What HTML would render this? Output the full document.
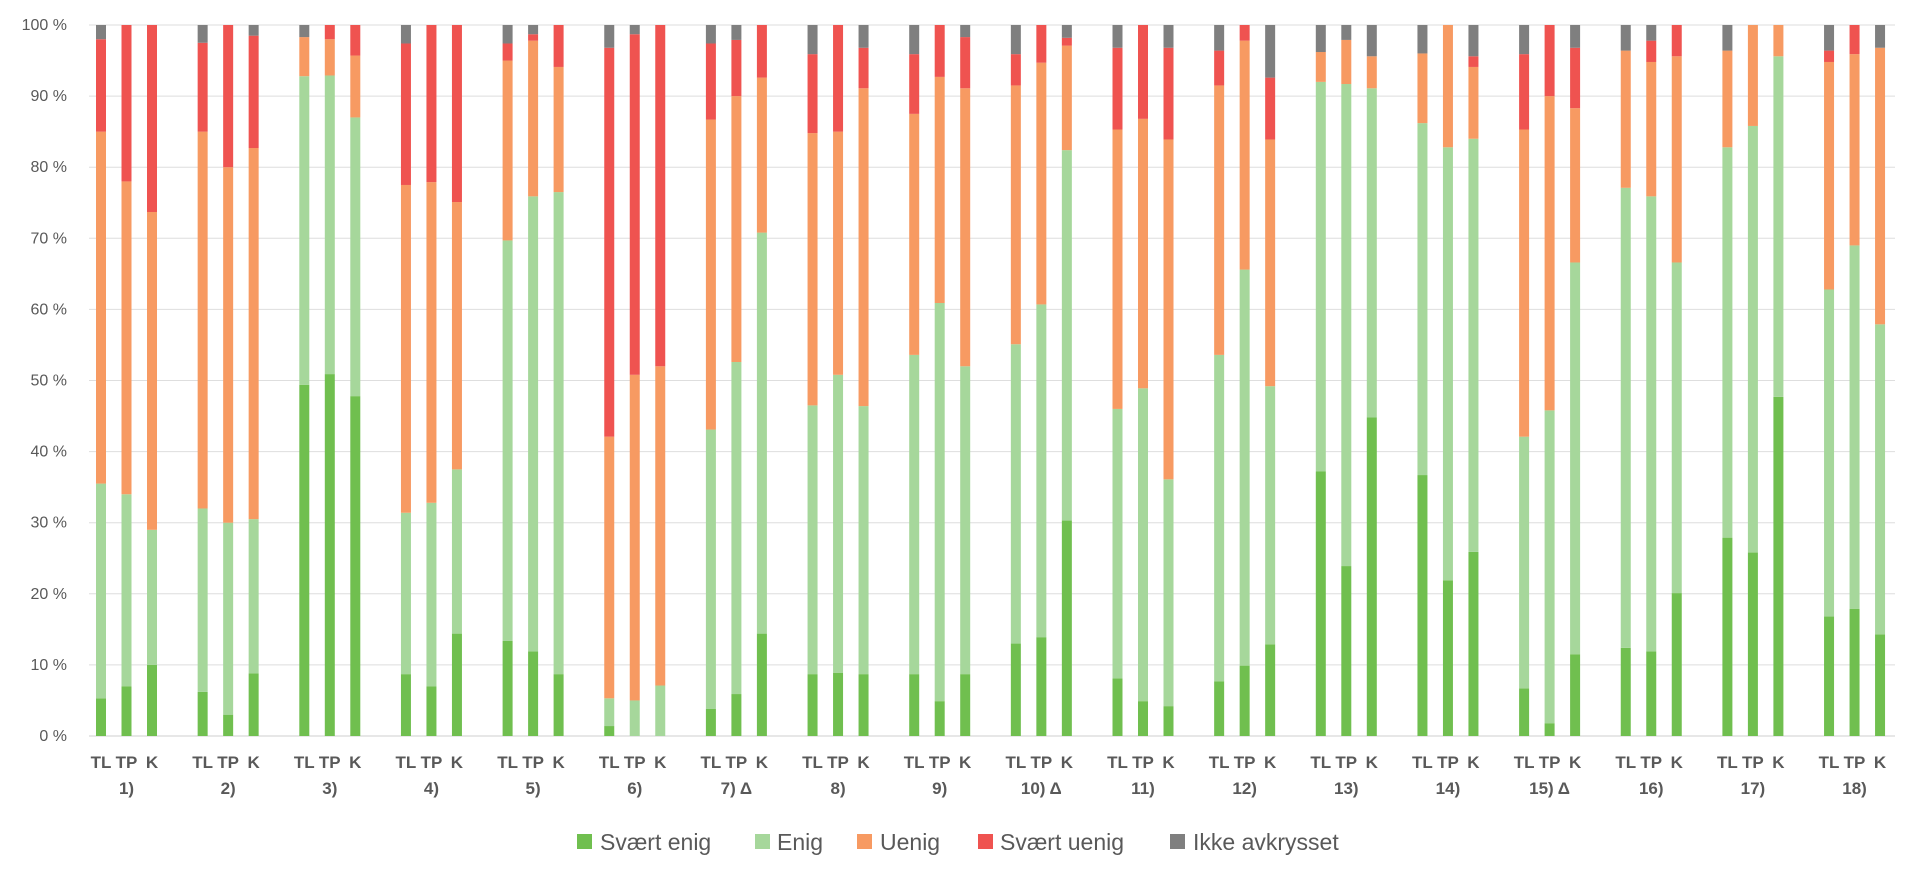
<!DOCTYPE html>
<html><head><meta charset="utf-8">
<style>
html,body{margin:0;padding:0;background:#fff;}
svg{display:block;font-family:"Liberation Sans",Arial,sans-serif;}
</style></head>
<body>
<svg id="c" width="1920" height="877" xmlns="http://www.w3.org/2000/svg"></svg>
<script>
const data=[
[[5.3,35.5,85,98],[7,34,78,100],[10,29,73.7,100]],
[[6.2,32,85,97.5],[3,30,80,100],[8.8,30.5,82.7,98.5]],
[[49.4,92.8,98.3,98.3],[50.9,92.9,98,100],[47.8,87,95.7,100]],
[[8.7,31.4,77.5,97.4],[7,32.8,77.9,100],[14.4,37.5,75.1,100]],
[[13.4,69.7,95,97.4],[11.9,75.9,97.8,98.7],[8.7,76.5,94.1,100]],
[[1.4,5.3,42.1,96.8],[0,5,50.8,98.7],[0,7.1,52,100]],
[[3.8,43.1,86.7,97.4],[5.9,52.6,90,97.9],[14.4,70.8,92.6,100]],
[[8.7,46.5,84.8,95.9],[8.9,50.8,85,100],[8.7,46.4,91.1,96.8]],
[[8.7,53.6,87.5,95.9],[4.9,60.9,92.7,100],[8.7,52,91.1,98.3]],
[[13,55.1,91.5,95.9],[13.9,60.7,94.7,100],[30.3,82.4,97.1,98.2]],
[[8.1,46,85.3,96.8],[4.9,48.9,86.8,100],[4.2,36.1,83.9,96.8]],
[[7.7,53.6,91.5,96.4],[9.9,65.6,97.8,100],[12.9,49.2,83.9,92.6]],
[[37.2,92,96.2,96.2],[23.9,91.7,97.9,97.9],[44.8,91.1,95.6,95.6]],
[[36.7,86.2,96,96],[21.9,82.8,100,100],[25.9,84,94.1,95.6]],
[[6.7,42.1,85.3,95.9],[1.8,45.8,90,100],[11.5,66.6,88.3,96.8]],
[[12.4,77.1,96.4,96.4],[11.9,75.9,94.8,97.8],[20.1,66.6,95.6,100]],
[[27.9,82.8,96.4,96.4],[25.8,85.8,100,100],[47.7,95.6,100,100]],
[[16.8,62.8,94.8,96.4],[17.9,69,95.9,100],[14.3,57.9,96.8,96.8]]];
const names=["1)","2)","3)","4)","5)","6)","7) Δ","8)","9)","10) Δ","11)","12)","13)","14)","15) Δ","16)","17)","18)"];
const cols=["#70bf4f","#a6d79b","#f79a62","#ef5350","#7f7f7f"];
const y0=736,y1=25,H=y0-y1;const Y=p=>y0-p/100*H;
let s="";
for(let i=0;i<=10;i++){const y=Y(i*10);s+=`<line x1="89" x2="1895" y1="${y}" y2="${y}" stroke="${i==0?'#cfcfcf':'#dedede'}" stroke-width="1"/>`;
s+=`<text x="67" y="${y+5}" text-anchor="end" font-size="16" fill="#595959">${i*10} %</text>`;}
data.forEach((g,gi)=>{const base=101+gi*101.65;
g.forEach((b,bi)=>{const cx=base+bi*25.5;const v=[0,...b,100];
for(let k=0;k<5;k++){if(v[k+1]>v[k]){s+=`<rect x="${cx-5}" y="${Y(v[k+1])}" width="10" height="${Y(v[k])-Y(v[k+1])}" fill="${cols[k]}"/>`;}}
s+=`<text x="${cx}" y="768" text-anchor="middle" font-size="17" font-weight="bold" fill="#595959">${["TL","TP","K"][bi]}</text>`;});
s+=`<text x="${base+25.5}" y="794" text-anchor="middle" font-size="17" font-weight="bold" fill="#595959">${names[gi]}</text>`;});
const leg=[[577,600,"Svært enig"],[755,777,"Enig"],[857,880,"Uenig"],[978,1000,"Svært uenig"],[1170,1193,"Ikke avkrysset"]];
leg.forEach((l,i)=>{s+=`<rect x="${l[0]}" y="834" width="15" height="15" fill="${cols[i]}"/><text x="${l[1]}" y="850" font-size="23" fill="#595959">${l[2]}</text>`;});
document.getElementById("c").innerHTML=s;
</script>
</body></html>
